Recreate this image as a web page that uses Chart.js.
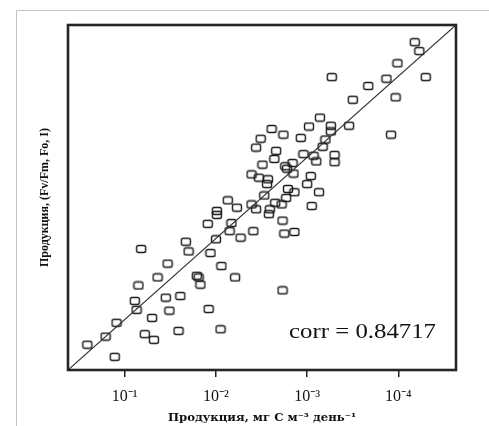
<!DOCTYPE html>
<html><head><meta charset="utf-8">
<script src="https://cdn.jsdelivr.net/npm/chart.js@4/dist/chart.umd.min.js"></script>
<style>html,body{margin:0;padding:0;background:#fff}#wrap{width:489px;height:426px;position:relative}</style>
</head><body><div id="wrap"><canvas id="c" width="489" height="426"></canvas></div>
<script>
// values in decade units along each axis
const xValues = [4.18,4.23,3.99,3.27,4.30,3.87,3.67,3.97,3.50,3.14,3.02,3.26,3.46,2.61,3.26,2.74,2.93,2.49,3.20,3.92,3.17,2.44,2.66,2.96,3.07,3.30,2.64,2.84,3.10,3.30,2.51,2.76,2.78,2.85,2.39,2.47,2.57,3.04,2.56,3.00,3.13,2.79,2.86,2.53,2.77,2.13,3.05,2.39,2.23,2.44,2.65,2.72,2.59,2.58,2.01,2.01,1.91,2.17,2.15,2.73,2.41,2.75,2.86,2.27,2.00,1.67,1.18,1.70,1.94,1.47,2.06,1.36,1.79,1.81,1.83,2.21,1.15,2.73,1.45,1.61,1.11,1.13,1.49,1.92,1.30,0.91,0.79,1.22,1.32,1.59,2.05,0.59,0.89];
const yValues = [4.42,4.31,4.16,3.99,3.99,3.97,3.88,3.74,3.71,3.49,3.38,3.39,3.39,3.35,3.32,3.28,3.24,3.23,3.22,3.28,3.13,3.12,3.08,3.04,3.02,3.03,2.98,2.93,2.95,2.94,2.91,2.89,2.86,2.80,2.79,2.75,2.73,2.77,2.67,2.67,2.57,2.61,2.57,2.53,2.50,2.47,2.40,2.42,2.38,2.36,2.44,2.42,2.36,2.30,2.34,2.29,2.18,2.19,2.09,2.22,2.09,2.06,2.08,2.01,1.99,1.96,1.87,1.84,1.82,1.69,1.66,1.52,1.54,1.52,1.43,1.52,1.42,1.36,1.27,1.29,1.23,1.12,1.11,1.13,1.02,0.96,0.79,0.82,0.75,0.86,0.88,0.69,0.54];
const tickValues = [1, 2, 3, 4];
const tickLabels = ['10\u207B\u00B9', '10\u207B\u00B2', '10\u207B\u00B3', '10\u207B\u2074'];
const axisRange = [0.378, 4.632];
const fitLine = [0.378, 4.632];
const corrLabel = 'corr = 0.84717';
const xTitle = 'Продукция, мг С м\u207B\u00B3 день\u207B\u00B9';
const yTitle = 'Продукция, (Fv/Fm, Fo, I)';

// hollow rounded-rectangle marker
const mk = document.createElement('canvas');
mk.width = 12; mk.height = 10;
(function(){
  const g = mk.getContext('2d');
  g.strokeStyle = '#1a1a1a'; g.lineWidth = 1.4;
  const x=1.5, y=1.5, w=9, h=7, r=1.8;
  g.beginPath();
  g.moveTo(x+r,y); g.lineTo(x+w-r,y); g.quadraticCurveTo(x+w,y,x+w,y+r);
  g.lineTo(x+w,y+h-r); g.quadraticCurveTo(x+w,y+h,x+w-r,y+h);
  g.lineTo(x+r,y+h); g.quadraticCurveTo(x,y+h,x,y+h-r);
  g.lineTo(x,y+r); g.quadraticCurveTo(x,y,x+r,y);
  g.closePath(); g.stroke();
})();

const deco = {
  id: 'deco',
  beforeDraw(chart){
    const ctx = chart.ctx;
    ctx.save();
    ctx.strokeStyle = '#c4c4c4'; ctx.lineWidth = 1;
    ctx.beginPath(); ctx.moveTo(16.5, 426); ctx.lineTo(16.5, 10.5); ctx.lineTo(489, 10.5); ctx.stroke();
    ctx.restore();
  },
  afterDraw(chart){
    const {ctx, chartArea: a} = chart;
    ctx.save();
    ctx.strokeStyle = '#262626'; ctx.lineWidth = 2.6;
    ctx.strokeRect(a.left, a.top, a.right - a.left, a.bottom - a.top);
    ctx.font = '20px "Liberation Serif"';
    ctx.fillStyle = '#111';
    ctx.textAlign = 'right'; ctx.textBaseline = 'middle';
    ctx.translate(a.right - 20, a.bottom - 37);
    ctx.scale(1.24, 1);
    ctx.fillText(corrLabel, 0, 0);
    ctx.restore();
  }
};

new Chart(document.getElementById('c'), {
  data: {
    datasets: [
      {
        type: 'line',
        data: fitLine.map(v => ({x: v, y: v})),
        borderColor: '#333', borderWidth: 1.2, pointRadius: 0, fill: false
      },
      {
        type: 'scatter',
        data: xValues.map((x, i) => ({x: x, y: yValues[i]})),
        pointStyle: mk, pointRadius: 5
      }
    ]
  },
  options: {
    responsive: false, animation: false, devicePixelRatio: 1,
    layout: {padding: {left: 0, top: 25, right: 33, bottom: 0}},
    plugins: {legend: {display: false}, tooltip: {enabled: false}},
    scales: {
      x: {
        type: 'linear', min: axisRange[0], max: axisRange[1],
        afterBuildTicks: s => { s.ticks = tickValues.map(v => ({value: v})); },
        afterFit: s => { s.height = 56; },
        ticks: {
          callback: v => tickLabels[tickValues.indexOf(v)],
          font: {family: 'Liberation Serif', size: 16}, color: '#111',
          padding: 10, maxRotation: 0, autoSkip: false
        },
        grid: {display: true, drawOnChartArea: false, drawTicks: true, tickLength: 7, color: '#222', lineWidth: 1.5},
        border: {display: false},
        title: {display: true, text: xTitle, color: '#111',
          font: {family: 'DejaVu Serif', size: 11.7, weight: 'bold'}, padding: {top: 0, bottom: 1}}
      },
      y: {
        type: 'linear', min: axisRange[0], max: axisRange[1],
        afterFit: s => { s.width = 68; },
        ticks: {display: false},
        grid: {display: false},
        border: {display: false},
        title: {display: true, text: yTitle, color: '#111',
          font: {family: 'Liberation Serif', size: 12, weight: 'bold'}, padding: {top: 38, bottom: 0}}
      }
    }
  },
  plugins: [deco]
});
</script></body></html>
